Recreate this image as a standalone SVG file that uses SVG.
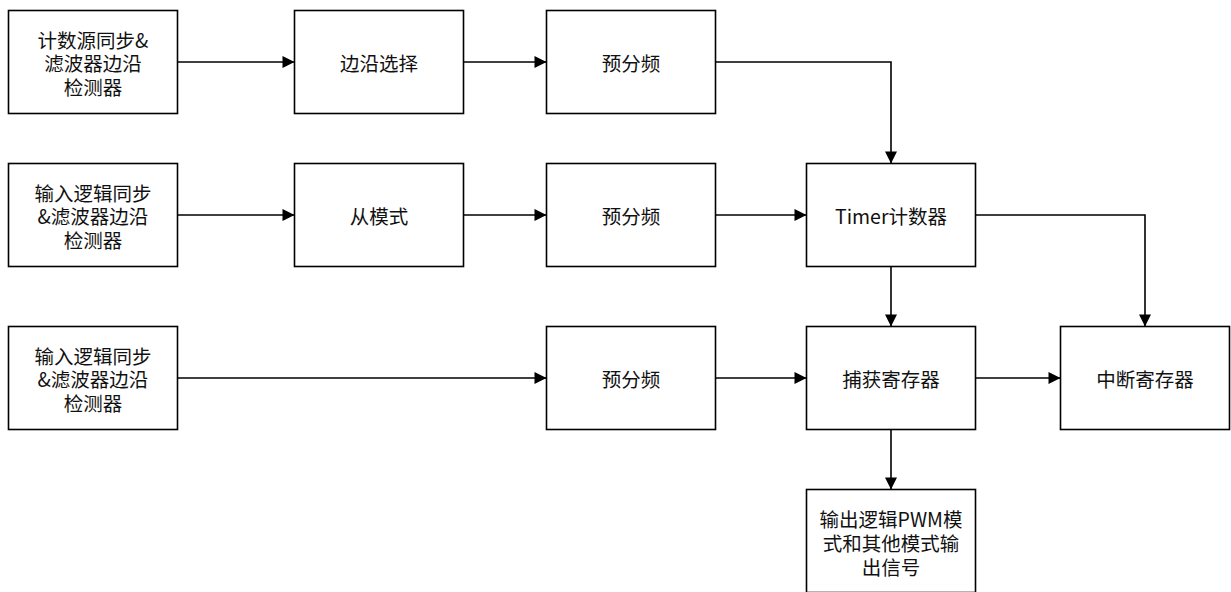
<svg xmlns="http://www.w3.org/2000/svg" width="1231" height="592" viewBox="0 0 1231 592">
<style>
.box{fill:#fff;stroke:#000;stroke-width:1.6}
.t{font-family:"Noto Sans CJK SC","Noto Sans",sans-serif;font-size:19.5px;fill:#111;text-anchor:middle;dominant-baseline:central}
.c{fill:none;stroke:#000;stroke-width:1.6}
</style>
<defs>
<marker id="a" viewBox="0 0 10 10" refX="10" refY="5" markerWidth="13" markerHeight="12" markerUnits="userSpaceOnUse" orient="auto">
<path d="M0,0 L10,5 L0,10 z" fill="#000"/>
</marker>
</defs>
<rect width="1231" height="592" fill="#fff"/>
<g id="connectors">
<path class="c" d="M177.5,62 H294.5" marker-end="url(#a)"/>
<path class="c" d="M463.5,62 H546.5" marker-end="url(#a)"/>
<path class="c" d="M715.5,62 H891 V163.5" marker-end="url(#a)"/>
<path class="c" d="M177.5,215 H294.5" marker-end="url(#a)"/>
<path class="c" d="M463.5,215 H546.5" marker-end="url(#a)"/>
<path class="c" d="M715.5,215 H806.5" marker-end="url(#a)"/>
<path class="c" d="M975.5,215 H1145 V326.5" marker-end="url(#a)"/>
<path class="c" d="M177.5,378 H546.5" marker-end="url(#a)"/>
<path class="c" d="M715.5,378 H806.5" marker-end="url(#a)"/>
<path class="c" d="M975.5,378 H1060.5" marker-end="url(#a)"/>
<path class="c" d="M891,266.5 V326.5" marker-end="url(#a)"/>
<path class="c" d="M891,429.5 V489.5" marker-end="url(#a)"/>
</g>
<g id="n1"><rect class="box" x="8.5" y="10.5" width="169" height="103"/>
<text class="t" x="93" y="39.3">计数源同步&amp;</text><text class="t" x="93" y="62.7">滤波器边沿</text><text class="t" x="93" y="86.1">检测器</text></g>
<g id="n2"><rect class="box" x="294.5" y="10.5" width="169" height="103"/><text class="t" x="379" y="62">边沿选择</text></g>
<g id="n3"><rect class="box" x="546.5" y="10.5" width="169" height="103"/><text class="t" x="631" y="62">预分频</text></g>
<g id="n4"><rect class="box" x="8.5" y="163.5" width="169" height="103"/>
<text class="t" x="93" y="192.3">输入逻辑同步</text><text class="t" x="93" y="215.7">&amp;滤波器边沿</text><text class="t" x="93" y="239.1">检测器</text></g>
<g id="n5"><rect class="box" x="294.5" y="163.5" width="169" height="103"/><text class="t" x="379" y="215">从模式</text></g>
<g id="n6"><rect class="box" x="546.5" y="163.5" width="169" height="103"/><text class="t" x="631" y="215">预分频</text></g>
<g id="n7"><rect class="box" x="806.5" y="163.5" width="169" height="103"/><text class="t" x="891" y="215">Timer计数器</text></g>
<g id="n8"><rect class="box" x="8.5" y="326.5" width="169" height="103"/>
<text class="t" x="93" y="355.3">输入逻辑同步</text><text class="t" x="93" y="378.7">&amp;滤波器边沿</text><text class="t" x="93" y="402.1">检测器</text></g>
<g id="n9"><rect class="box" x="546.5" y="326.5" width="169" height="103"/><text class="t" x="631" y="378">预分频</text></g>
<g id="n10"><rect class="box" x="806.5" y="326.5" width="169" height="103"/><text class="t" x="891" y="378">捕获寄存器</text></g>
<g id="n11"><rect class="box" x="1060.5" y="326.5" width="169" height="103"/><text class="t" x="1145" y="378">中断寄存器</text></g>
<g id="n12"><rect class="box" x="806.5" y="489.5" width="169" height="103"/>
<text class="t" x="891" y="518">输出逻辑PWM模</text><text class="t" x="891" y="542">式和其他模式输</text><text class="t" x="891" y="566">出信号</text></g>
</svg>
